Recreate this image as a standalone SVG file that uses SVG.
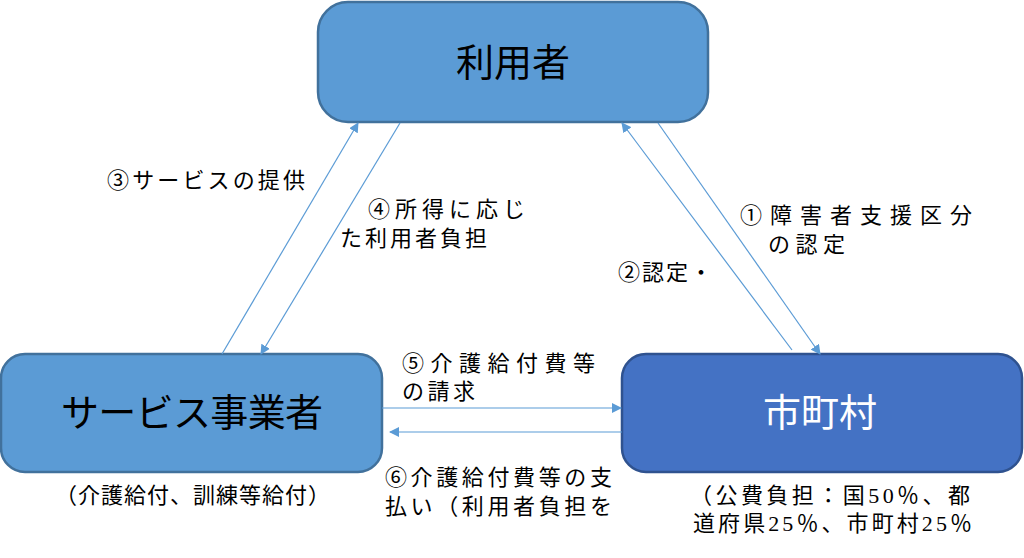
<svg xmlns="http://www.w3.org/2000/svg" width="1024" height="558" viewBox="0 0 1024 558">
<defs>
<marker id="ah" markerWidth="10" markerHeight="10" refX="9" refY="5" orient="auto" markerUnits="userSpaceOnUse">
<path d="M0,0 L10,5 L0,10 Z" fill="#5B9BD5"/>
</marker>
<style>
.box{fill:#5B9BD5;stroke:#41719C;stroke-width:2.5}
.box2{fill:#4472C4;stroke:#2F528F;stroke-width:2.5}
.lbl{font-family:"Liberation Serif","Noto Sans CJK JP",serif;font-size:38px;fill:#000}
.t{font-family:"Liberation Serif","Noto Sans CJK JP",serif;font-size:22px;fill:#000}
.c{stroke:#5B9BD5;stroke-width:1.2;fill:none}
</style>
</defs>
<rect width="1024" height="558" fill="#fff"/>
<g id="riyousha">
<rect class="box" x="318" y="2" width="390" height="120" rx="30"/>
<text class="lbl" x="513" y="76" text-anchor="middle">利用者</text>
</g>
<g id="jigyousha">
<rect class="box" x="1" y="354" width="381" height="118" rx="24"/>
<text class="lbl" x="192" y="426" text-anchor="middle" textLength="262" lengthAdjust="spacing">サービス事業者</text>
</g>
<g id="shichouson">
<rect class="box2" x="622" y="354" width="400" height="118" rx="24"/>
<text class="lbl" x="820" y="426" text-anchor="middle" style="fill:#fff">市町村</text>
</g>
<g id="connectors">
<line class="c" x1="222" y1="354" x2="358" y2="123" marker-end="url(#ah)"/>
<line class="c" x1="400" y1="123" x2="261" y2="354" marker-end="url(#ah)"/>
<line class="c" x1="792" y1="350" x2="622" y2="123" marker-end="url(#ah)"/>
<line class="c" x1="658" y1="123" x2="820" y2="354" marker-end="url(#ah)"/>
<line class="c" x1="382" y1="408" x2="621" y2="408" marker-end="url(#ah)"/>
<line class="c" x1="622" y1="432" x2="390" y2="432" marker-end="url(#ah)"/>
</g>
<g id="labels">
<text class="t" x="107" y="188" textLength="198" lengthAdjust="spacing">③サービスの提供</text>
<text class="t" x="368" y="217" textLength="157" lengthAdjust="spacing">④所得に応じ</text>
<text class="t" x="340" y="246" textLength="147" lengthAdjust="spacing">た利用者負担</text>
<text class="t" x="740" y="223" textLength="232" lengthAdjust="spacing">①障害者支援区分</text>
<text class="t" x="768" y="252" textLength="77" lengthAdjust="spacing">の認定</text>
<text class="t" x="618" y="280" textLength="94" lengthAdjust="spacing">②認定・</text>
<text class="t" x="402" y="371" textLength="193" lengthAdjust="spacing">⑤介護給付費等</text>
<text class="t" x="402" y="399" textLength="73" lengthAdjust="spacing">の請求</text>
<text class="t" x="385" y="485" textLength="227" lengthAdjust="spacing">⑥介護給付費等の支</text>
<text class="t" x="385" y="514" textLength="227" lengthAdjust="spacing">払い（利用者負担を</text>
<text class="t" x="55" y="503" textLength="275" lengthAdjust="spacing">（介護給付、訓練等給付）</text>
<text class="t" x="690" y="503" textLength="280" lengthAdjust="spacing">（公費負担：国50％、都</text>
<text class="t" x="693" y="531" textLength="279" lengthAdjust="spacing">道府県25％、市町村25％</text>
</g>
</svg>
